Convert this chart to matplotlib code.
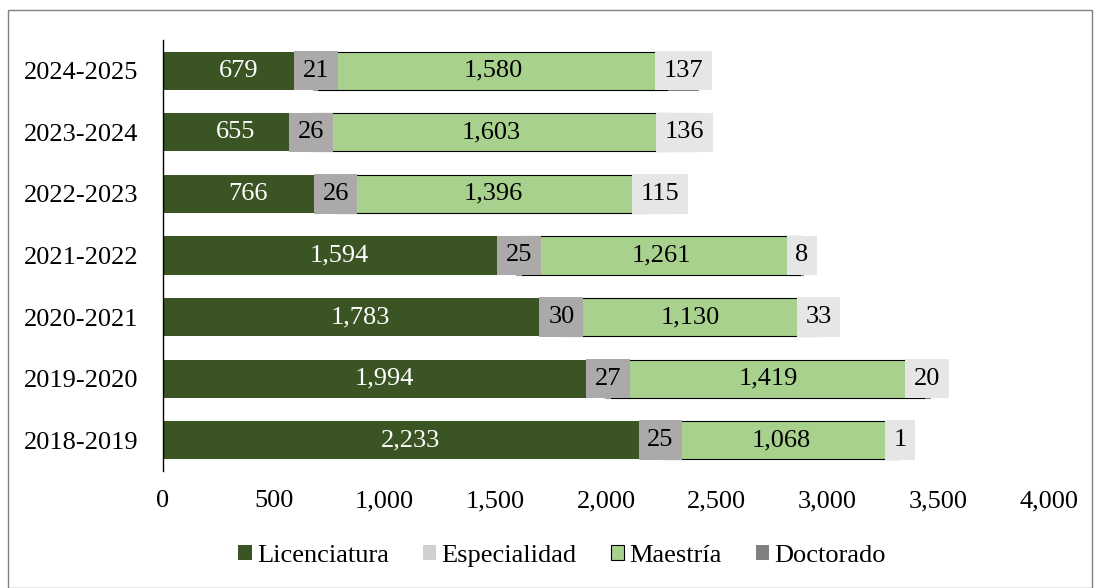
import numpy as np
import matplotlib
matplotlib.use("Agg")
import matplotlib.pyplot as plt
from matplotlib.patches import Rectangle, Patch

plt.rcParams['font.family'] = ['Liberation Serif', 'DejaVu Serif']

# data (bottom to top)
periodos = ['2018-2019', '2019-2020', '2020-2021', '2021-2022', '2022-2023', '2023-2024', '2024-2025']
licenciatura = [2233, 1994, 1783, 1594, 766, 655, 679]
especialidad = [25, 27, 30, 25, 26, 26, 21]
maestria = [1068, 1419, 1130, 1261, 1396, 1603, 1580]
doctorado = [1, 20, 33, 8, 115, 136, 137]
xticks = [0, 500, 1000, 1500, 2000, 2500, 3000, 3500, 4000]

c_lic = '#3A5424'
c_esp = '#D0D0D0'
c_mae = '#A9D18E'
c_doc = '#808080'

fig = plt.figure(figsize=(10.94, 5.88), dpi=100)
ax = fig.add_axes([0.149, 0.199, 0.81, 0.733])

y = np.arange(len(periodos))
h = 0.62
lic = np.array(licenciatura)
esp = np.array(especialidad)
mae = np.array(maestria)
doc = np.array(doctorado)

ax.barh(y, lic, height=h, color=c_lic, lw=0)
ax.barh(y, esp, left=lic, height=h, color=c_esp, edgecolor='#A0A0A0', lw=0.8)
ax.barh(y, mae, left=lic + esp, height=h, color=c_mae, edgecolor='black', lw=0.8)
ax.barh(y, doc, left=lic + esp + mae, height=h, color=c_doc, edgecolor='#808080', lw=0.8)

fs = 19
for i in range(len(y)):
    ax.text(lic[i] / 2, y[i], f'{lic[i]:,}', ha='center', va='center', color='white', fontsize=fs)
    ax.text(lic[i] + esp[i] / 2, y[i], f'{esp[i]:,}', ha='center', va='center', color='black', fontsize=fs,
            bbox=dict(boxstyle='square,pad=0.33', fc='#ABA9A9', ec='none'))
    ax.text(lic[i] + esp[i] + mae[i] / 2, y[i], f'{mae[i]:,}', ha='center', va='center', color='black', fontsize=fs)
    ax.text(lic[i] + esp[i] + mae[i] + doc[i] / 2, y[i], f'{doc[i]:,}', ha='center', va='center', color='black',
            fontsize=fs, bbox=dict(boxstyle='square,pad=0.33', fc='#E6E6E6', ec='none'))

ax.set_xlim(0, 4000)
ax.set_ylim(-0.5, len(y) - 0.5)
ax.set_yticks(y)
ax.set_yticklabels(periodos, fontsize=fs)
ax.set_xticks(xticks)
ax.set_xticklabels([f'{v:,}' for v in xticks], fontsize=fs)
ax.tick_params(length=0)
ax.tick_params(axis='x', pad=14)
ax.tick_params(axis='y', pad=18)
for s in ['top', 'right', 'bottom']:
    ax.spines[s].set_visible(False)
ax.spines['left'].set_color('black')
ax.spines['left'].set_linewidth(1.0)

handles = [Patch(fc=c_lic, ec='none'), Patch(fc=c_esp, ec='none'),
           Patch(fc=c_mae, ec='black', lw=0.8), Patch(fc=c_doc, ec='none')]
fig.legend(handles, ['Licenciatura', 'Especialidad', 'Maestría', 'Doctorado'],
           loc='center', bbox_to_anchor=(0.514, 0.054), ncol=4, frameon=False, fontsize=fs,
           handlelength=0.5, handleheight=0.5, handletextpad=0.2, columnspacing=1.3)

fig.patches.append(Rectangle((8 / 1094, 0), 1 - 10 / 1094, 1 - 10 / 588, transform=fig.transFigure,
                             fill=False, ec='#808080', lw=1.0))

fig.savefig('out.png', dpi=100)
